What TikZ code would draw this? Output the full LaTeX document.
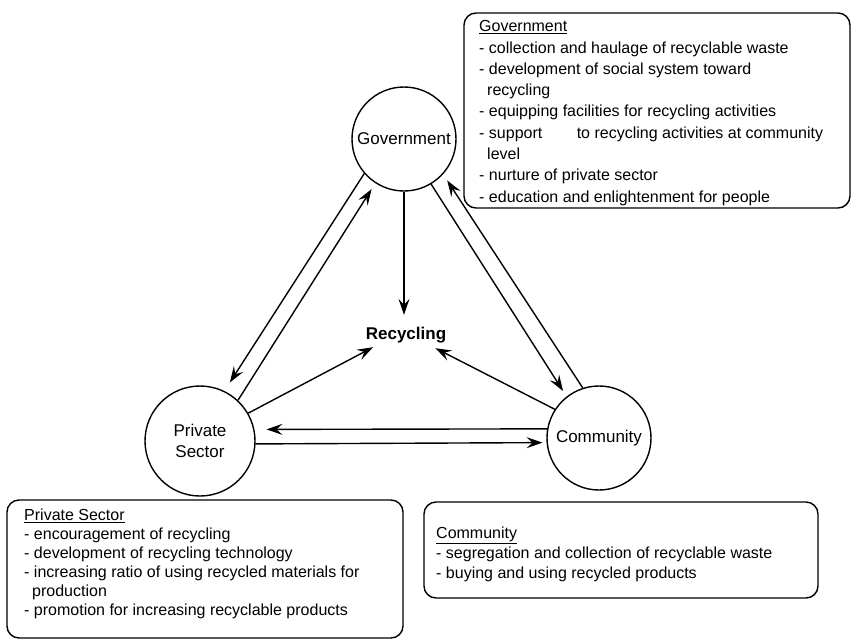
\documentclass[tikz,border=0pt]{standalone}
\usepackage{fontspec}
\setmainfont{Liberation Sans}
\usetikzlibrary{arrows.meta}
\begin{document}
\begin{tikzpicture}[x=1pt,y=-1pt,
  actor/.style={draw,circle,line width=1.4pt,inner sep=0pt,font=\fontsize{17}{21}\selectfont},
  conn/.style={line width=1.4pt,-{Stealth[length=16pt,width=11pt,inset=6pt]}},
  infobox/.style={draw,line width=1.4pt,rounded corners=12pt},
  infotext/.style={anchor=north west,inner sep=0pt,align=left}]
\useasboundingbox (0,0) rectangle (852,641);
% actors
\node[actor,minimum size=104pt] (gov) at (404,139) {Government};
\node[actor,minimum size=110pt,align=center] (priv) at (200,441) {Private\\Sector};
\node[actor,minimum size=104pt] (comm) at (599,438) {Community};
\node[font=\bfseries\fontsize{17}{20}\selectfont,inner sep=3pt] (rec) at (406,335) {Recycling};
% connectors
\draw[conn,shorten >=9pt] (gov.south) -- (gov.south |- rec.north);
\draw[conn,shorten >=10pt] (gov.221) -- (priv.64);
\draw[conn,shorten >=7pt] (priv.47) -- (gov.237);
\draw[conn,shorten >=6.5pt] (gov.301) -- (comm.128);
\draw[conn,shorten >=7.4pt] (comm.108) -- (gov.318);
\draw[conn] (priv.30) -- ([xshift=10.5pt,yshift=-1pt]rec.south west);
\draw[conn] (comm.147.5) -- ([xshift=-14pt,yshift=-2pt]rec.south east);
\draw[conn,shorten >=12pt] (comm.170) -- (priv.12.4);
\draw[conn,shorten >=4pt] (priv.357.6) -- (comm.185.9);
% info boxes
\draw[infobox] (464,13) rectangle (850,208);
\node[infotext,font=\fontsize{16}{21.3}\selectfont] (gtxt) at (479,16.6)
 {\strut\underline{Government}\\
  - collection and haulage of recyclable waste\\
  - development of social system toward\\
  \hspace*{8pt}recycling\\
  - equipping facilities for recycling activities\\
  - support\hspace{30pt} to recycling activities at community\\
  \hspace*{8pt}level\\
  - nurture of private sector\\
  - education and enlightenment for people};
\draw[infobox] (7,500) rectangle (403,638);
\node[infotext,font=\fontsize{16}{19}\selectfont] (ptxt) at (24,507)
 {\strut\underline{Private Sector}\\
  - encouragement of recycling\\
  - development of recycling technology\\
  - increasing ratio of using recycled materials for\\
  \hspace*{8pt}production\\
  - promotion for increasing recyclable products};
\draw[infobox] (424,502) rectangle (818,598);
\node[infotext,font=\fontsize{16}{20}\selectfont] (ctxt) at (436,524.5)
 {\strut\underline{Community}\\
  - segregation and collection of recyclable waste\\
  - buying and using recycled products};
\end{tikzpicture}
\end{document}
